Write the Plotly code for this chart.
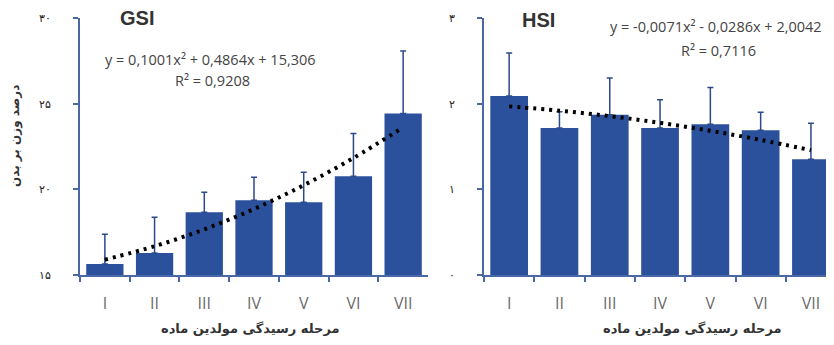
import plotly.graph_objects as go

stages = ["I", "II", "III", "IV", "V", "VI", "VII"]

gsi_values = [15.64, 16.28, 18.66, 19.36, 19.24, 20.76, 24.42]
gsi_errors = [1.74, 2.09, 1.17, 1.34, 1.75, 2.50, 3.66]
gsi_coef = [0.1001, 0.4864, 15.306]   # a, b, c of trendline y = a x^2 + b x + c

hsi_values = [2.09, 1.715, 1.87, 1.715, 1.76, 1.69, 1.35]
hsi_errors = [0.50, 0.19, 0.43, 0.33, 0.43, 0.21, 0.42]
hsi_coef = [-0.0071, -0.0286, 2.0042]

gsi_ticks = [15, 20, 25, 30]
gsi_ticktext = ["۱۵", "۲۰", "۲۵", "۳۰"]
hsi_ticks = [0, 1, 2, 3]
hsi_ticktext = ["۰", "۱", "۲", "۳"]

x_title = "مرحله رسیدگی مولدین ماده"
y_title = "درصد وزن بر بدن"

BAR = "#2C519C"
AXIS = "#4A68A6"
ERR = "#2C4A8A"


def trend(coef, n):
    a, b, c = coef
    return [a * k * k + b * k + c for k in range(1, n + 1)]


fig = go.Figure()

dot_line = dict(color="black", width=4, dash="3px,5px", shape="spline")

fig.add_trace(go.Bar(x=stages, y=gsi_values, marker_color=BAR, marker_line_width=0,
                     error_y=dict(type="data", array=gsi_errors, symmetric=False,
                                  arrayminus=[0] * 7, color=ERR, thickness=1.5, width=3),
                     xaxis="x", yaxis="y", showlegend=False))
fig.add_trace(go.Scatter(x=stages, y=trend(gsi_coef, 7), mode="lines", line=dot_line,
                         xaxis="x", yaxis="y", showlegend=False))

fig.add_trace(go.Bar(x=stages, y=hsi_values, marker_color=BAR, marker_line_width=0,
                     error_y=dict(type="data", array=hsi_errors, symmetric=False,
                                  arrayminus=[0] * 7, color=ERR, thickness=1.5, width=3),
                     xaxis="x2", yaxis="y2", showlegend=False))
fig.add_trace(go.Scatter(x=stages, y=trend(hsi_coef, 7), mode="lines", line=dot_line,
                         xaxis="x2", yaxis="y2", showlegend=False))

# page body has an 8px margin; work in reference pixel coords and shift
OFF = 8
W, H = 834 - OFF, 345 - OFF
TOP, BOT = 18 - OFF, 275 - OFF

xcat_font = dict(family="Open Sans, Liberation Sans, sans-serif", size=16, color="#6a6a6a")
ytick_font = dict(family="DejaVu Sans", size=11, color="#222222")

common_x = dict(type="category", showline=True, linecolor=AXIS, linewidth=2,
                ticks="outside", tickson="boundaries", ticklen=5, tickcolor=AXIS,
                tickwidth=1.5, tickfont=xcat_font, showgrid=False, zeroline=False,
                ticklabelstandoff=13)
common_y = dict(showline=True, linecolor=AXIS, linewidth=2, ticks="outside",
                ticklen=5, tickcolor=AXIS, tickwidth=1.5, tickfont=ytick_font,
                showgrid=False, zeroline=False, ticklabelstandoff=20)


def dx(px):
    return (px - OFF) / W


fig.update_layout(
    width=W, height=H,
    margin=dict(l=0, r=0, t=TOP, b=H - BOT),
    paper_bgcolor="white", plot_bgcolor="white",
    bargap=0.25,
    xaxis=dict(domain=[dx(80), dx(428)], range=[-0.5, 6.5], anchor="y", **common_x),
    yaxis=dict(domain=[0, 1], range=[15, 30], tickvals=gsi_ticks, ticktext=gsi_ticktext,
               anchor="x", **common_y),
    xaxis2=dict(domain=[dx(484), 1.0], range=[-0.5, -0.5 + (834 - 484) / 50.3],
                anchor="y2", **common_x),
    yaxis2=dict(domain=[0, 1], range=[0, 3], tickvals=hsi_ticks, ticktext=hsi_ticktext,
                anchor="x2", **common_y),
)


def py(px):
    return (275 - px) / 257


eq_font = dict(family="Open Sans, Liberation Sans, sans-serif", size=14.5, color="#444444")
title_font = dict(family="Liberation Sans, Arial, sans-serif", size=20, color="#333333")
xt_font = dict(family="DejaVu Sans", size=13, color="#333333")
yt_font = dict(family="DejaVu Sans", size=12, color="#333333")

ann = [
    dict(x=dx(137), y=py(18), text="<b>GSI</b>", font=title_font),
    dict(x=dx(538), y=py(20), text="<b>HSI</b>", font=title_font),
    dict(x=dx(210), y=py(59), text="y = 0,1001x² + 0,4864x + 15,306", font=eq_font),
    dict(x=dx(212), y=py(80), text="R² = 0,9208", font=eq_font),
    dict(x=dx(716), y=py(27), text="y = -0,0071x² - 0,0286x + 2,0042", font=eq_font),
    dict(x=dx(718), y=py(50), text="R² = 0,7116", font=eq_font),
    dict(x=dx(250), y=py(328), text="<b>" + x_title + "</b>", font=xt_font),
    dict(x=dx(692), y=py(328), text="<b>" + x_title + "</b>", font=xt_font),
    dict(x=dx(15), y=py(136), text="<b>" + y_title + "</b>", font=yt_font, textangle=-90),
]
for a in ann:
    a.update(xref="paper", yref="paper", showarrow=False, xanchor="center", yanchor="middle")
fig.update_layout(annotations=ann)

fig.write_html("out.html")
